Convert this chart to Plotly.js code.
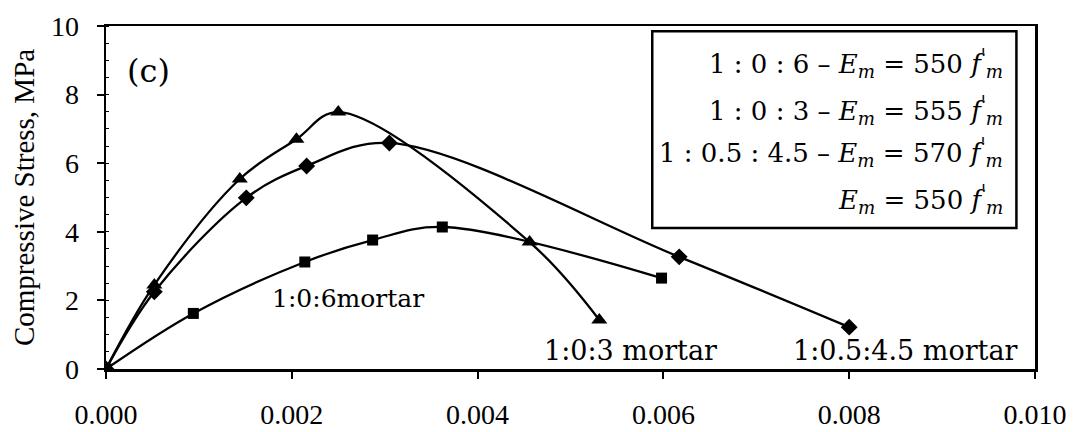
<!DOCTYPE html>
<html>
<head>
<meta charset="utf-8">
<script src="https://cdn.plot.ly/plotly-3.0.1.min.js"></script>
<style>html,body{margin:0;padding:0;background:#fff;}#chart{width:1086px;height:432px;}</style>
</head>
<body>
<div id="chart"></div>
<script>
// 1:0:6 mortar (squares)
const strain106 = [0, 0.00094, 0.00214, 0.00287, 0.00362, 0.00598];
const stress106 = [0, 1.62, 3.12, 3.76, 4.14, 2.65];
// 1:0:3 mortar (triangles)
const strain103 = [0, 0.00052, 0.00144, 0.00205, 0.0025, 0.00456, 0.00531];
const stress103 = [0, 2.45, 5.54, 6.70, 7.49, 3.70, 1.43];
// 1:0.5:4.5 mortar (diamonds)
const strain1545 = [0, 0.00052, 0.00151, 0.00216, 0.00305, 0.00617, 0.0080];
const stress1545 = [0, 2.25, 4.99, 5.92, 6.59, 3.27, 1.22];

const seriesLabels = ["1:0:6mortar", "1:0:3 mortar", "1:0.5:4.5 mortar"];
const legendLines = [
  "1 : 0 : 6 – <i>E</i><sub><i>m</i></sub> = 550 <i>f</i><sup>'</sup><sub><i>m</i></sub>",
  "1 : 0 : 3 – <i>E</i><sub><i>m</i></sub> = 555 <i>f</i><sup>'</sup><sub><i>m</i></sub>",
  "1 : 0.5 : 4.5 – <i>E</i><sub><i>m</i></sub> = 570 <i>f</i><sup>'</sup><sub><i>m</i></sub>",
  "<i>E</i><sub><i>m</i></sub> = 550 <i>f</i><sup>'</sup><sub><i>m</i></sub>"
];

const serif = "Liberation Serif, Times New Roman, serif";
const wideSerif = "DejaVu Serif, Liberation Serif, serif";
function tr(x, y, sym, size) {
  return {
    x: x, y: y, type: "scatter", mode: "lines+markers",
    line: {color: "#000", width: 2.3, shape: "spline", smoothing: 1},
    marker: {symbol: sym, size: size, color: "#000"},
    showlegend: false, hoverinfo: "skip"
  };
}
const data = [
  tr(strain106, stress106, "square", 11),
  tr(strain103, stress103, "triangle-up", 14),
  tr(strain1545, stress1545, "diamond", 13)
];

const legY = [0.892, 0.755, 0.630, 0.493];
const annotations = legendLines.map((t, i) => ({
  xref: "paper", yref: "paper", x: 0.968, y: legY[i],
  xanchor: "right", yanchor: "middle", text: t, showarrow: false,
  font: {family: wideSerif, size: 26, color: "#000"}
}));
annotations.push(
  {xref: "x", yref: "y", x: 0.00176, y: 2.05, xanchor: "left", yanchor: "middle",
   text: seriesLabels[0], showarrow: false, font: {family: wideSerif, size: 25, color: "#000"}},
  {xref: "x", yref: "y", x: 0.00469, y: 0.55, xanchor: "left", yanchor: "middle",
   text: seriesLabels[1], showarrow: false, font: {family: wideSerif, size: 27, color: "#000"}},
  {xref: "x", yref: "y", x: 0.00737, y: 0.55, xanchor: "left", yanchor: "middle",
   text: seriesLabels[2], showarrow: false, font: {family: wideSerif, size: 27, color: "#000"}},
  {xref: "x", yref: "y", x: 0.0002, y: 8.7, xanchor: "left", yanchor: "middle",
   text: "(c)", showarrow: false, font: {family: wideSerif, size: 32, color: "#000"}}
);

const layout = {
  width: 1086, height: 432,
  margin: {l: 106, r: 51, t: 26, b: 63, pad: 0},
  paper_bgcolor: "#fff", plot_bgcolor: "#fff",
  font: {family: serif, color: "#000"},
  xaxis: {
    range: [0, 0.010], dtick: 0.002, tick0: 0, tickformat: ".3f",
    showgrid: false, zeroline: false, showline: true, linecolor: "#000", linewidth: 2.5,
    mirror: true, ticks: "outside", ticklen: 7, tickwidth: 2, tickcolor: "#000",
    ticklabelstandoff: 12,
    tickfont: {family: serif, size: 28, color: "#000"}
  },
  yaxis: {
    range: [0, 10], dtick: 2, tick0: 0,
    showgrid: false, zeroline: false, showline: true, linecolor: "#000", linewidth: 2.5,
    mirror: true, ticks: "outside", ticklen: 7, tickwidth: 2, tickcolor: "#000",
    ticklabelstandoff: 12,
    minor: {dtick: 0.5, ticks: "inside", ticklen: 3, tickcolor: "#000", tickwidth: 1},
    tickfont: {family: serif, size: 28, color: "#000"},
    title: {text: "Compressive Stress, MPa", font: {family: serif, size: 29, color: "#000"}, standoff: 8}
  },
  shapes: [
    {type: "rect", xref: "paper", yref: "paper", x0: 0.588, x1: 0.98, y0: 0.411, y1: 0.985,
     line: {color: "#000", width: 2.5}, fillcolor: "#fff", layer: "below"}
  ],
  annotations: annotations
};

Plotly.newPlot("chart", data, layout, {displayModeBar: false, staticPlot: true});
</script>
</body>
</html>
